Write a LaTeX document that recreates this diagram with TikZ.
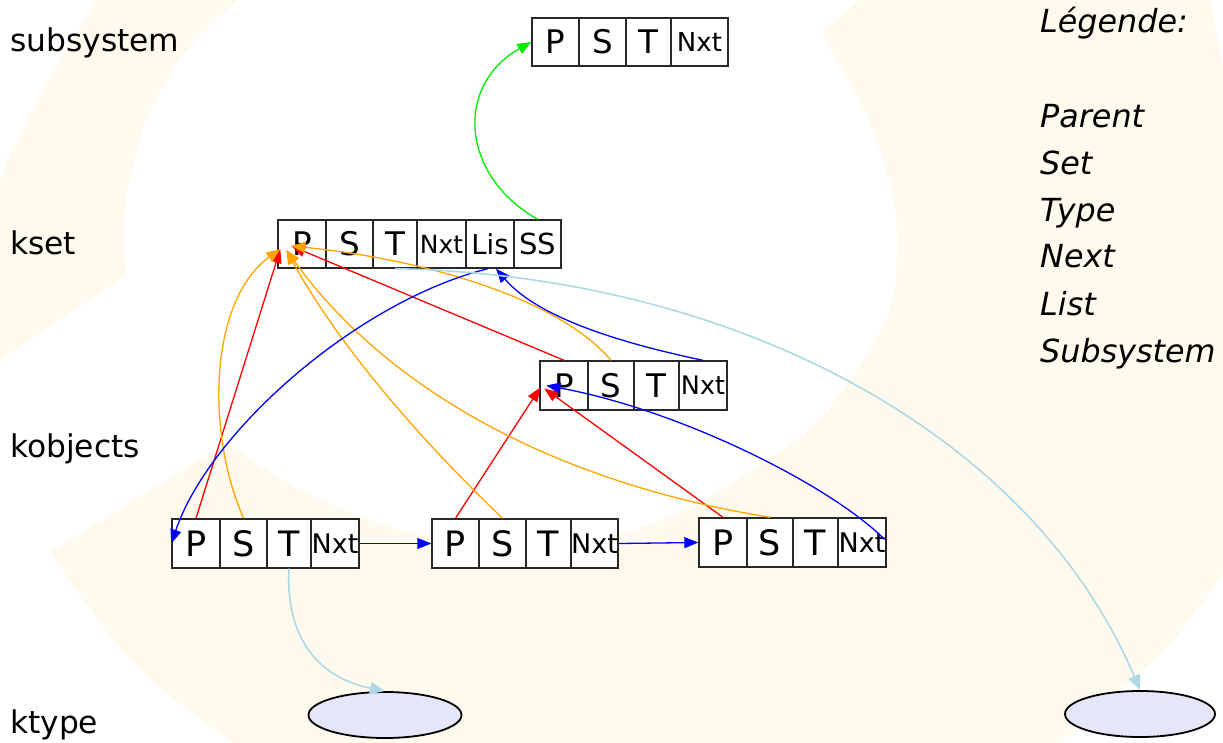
\documentclass[tikz,border=0pt]{standalone}
\usepackage{fontspec}
\setmainfont{DejaVu Sans}
\usetikzlibrary{arrows.meta,shapes.geometric}
\definecolor{cream}{RGB}{255,250,237}
\definecolor{boxline}{RGB}{40,40,40}
\definecolor{lav}{RGB}{230,230,250}
\definecolor{lblue}{RGB}{173,216,230}
\definecolor{vgreen}{RGB}{0,235,0}
\definecolor{vorange}{RGB}{255,165,0}
\newcommand\cellfont[1]{\fontsize{#1}{#1}\selectfont}
\begin{document}
\begin{tikzpicture}[x=1pt,y=-1pt,
  cell/.style={draw=boxline, fill=white, line width=1.4pt, inner sep=0pt,
    minimum height=48pt, anchor=center},
  big/.style={font=\cellfont{32.5}},
  bigger/.style={font=\cellfont{35}},
  lbl/.style={font=\cellfont{31.3}, anchor=base west, inner sep=0pt},
  leg/.style={font=\cellfont{31.8}\itshape, anchor=base west, inner sep=0pt},
  typ/.style={ellipse, draw=black, fill=lav, line width=1.8pt, inner sep=0pt,
    minimum width=152pt, minimum height=46pt},
  conn/.style={line width=1.3pt, -{Triangle[length=14pt,width=11pt]}},
  tconn/.style={line width=1.6pt, lblue, -{Triangle[length=15pt,width=12pt]}}]

\useasboundingbox (0,0) rectangle (1223,743);
\fill[white] (0,0) rectangle (1223,743);

% swirl in the background
\fill[cream] plot[smooth] coordinates {(97,0) (50,77) (13,150) (0,180)}
  -- (0,360) -- (126,275)
  -- plot[smooth] coordinates {(126,275) (123,230) (130,177) (150,110) (187,50) (237,0)}
  -- cycle;
\fill[cream] (50,552) -- (227,443)
  -- plot[smooth] coordinates {(227,443) (300,490) (400,530) (510,543) (620,534)
     (703,500) (800,437) (835,400) (870,350) (893,300) (897,233) (890,183) (867,117) (822,33)}
  -- (860,0) -- (1210,0) -- (1223,67) -- (1223,573)
  -- plot[smooth] coordinates {(1223,573) (1167,647) (1060,743)}
  -- (233,743)
  -- plot[smooth] coordinates {(233,743) (133,663) (50,552)}
  -- cycle;

% row labels
\node[lbl] (lsub) at (10,52) {subsystem};
\node[lbl] (lkset) at (10,255) {kset};
\node[lbl] (lkobj) at (10,457) {kobjects};
\node[lbl] (lktype) at (10,733) {ktype};

% legend
\node[leg] (lg0) at (1040,33) {Légende:};
\node[leg] (lg1) at (1040,128) {Parent};
\node[leg] (lg2) at (1040,175) {Set};
\node[leg] (lg3) at (1040,222) {Type};
\node[leg] (lg4) at (1040,268) {Next};
\node[leg] (lg5) at (1040,315) {List};
\node[leg] (lg6) at (1040,362) {Subsystem};

% subsystem
\node[cell,big,minimum width=47pt] (ssP) at (555.5,42) {P};
\node[cell,big,minimum width=47pt] (ssS) at (602.5,42) {S};
\node[cell,big,minimum width=45pt] (ssT) at (648.5,42) {T};
\node[cell,font=\cellfont{26},minimum width=57pt] (ssN) at (699.5,42) {Nxt};

% kset
\node[cell,big,minimum width=48pt] (ksP) at (302,244) {P};
\node[cell,big,minimum width=47pt] (ksS) at (349.5,244) {S};
\node[cell,big,minimum width=44pt] (ksT) at (395,244) {T};
\node[cell,font=\cellfont{25},minimum width=49pt] (ksN) at (441.5,244) {Nxt};
\node[cell,font=\cellfont{27.5},minimum width=48pt] (ksL) at (490,244) {Lis};
\node[cell,font=\cellfont{29},minimum width=47pt] (ksSS) at (537.5,244) {SS};

% embedded kobject of the kset
\node[cell,big,minimum width=48pt,minimum height=49pt] (mP) at (564,385.5) {P};
\node[cell,big,minimum width=46pt,minimum height=49pt] (mS) at (611,385.5) {S};
\node[cell,big,minimum width=45pt,minimum height=49pt] (mT) at (656.5,385.5) {T};
\node[cell,font=\cellfont{25.5},minimum width=48pt,minimum height=49pt] (mN) at (703,385.5) {Nxt};

% kobjects
\node[cell,bigger,minimum width=48pt,minimum height=49pt] (aP) at (196,543.5) {P};
\node[cell,bigger,minimum width=47pt,minimum height=49pt] (aS) at (243.5,543.5) {S};
\node[cell,bigger,minimum width=44pt,minimum height=49pt] (aT) at (289,543.5) {T};
\node[cell,font=\cellfont{27},minimum width=48pt,minimum height=49pt] (aN) at (335,543.5) {Nxt};

\node[cell,bigger,minimum width=47pt,minimum height=49pt] (bP) at (455.5,543.5) {P};
\node[cell,bigger,minimum width=47pt,minimum height=49pt] (bS) at (502.5,543.5) {S};
\node[cell,bigger,minimum width=45pt,minimum height=49pt] (bT) at (548.5,543.5) {T};
\node[cell,font=\cellfont{27},minimum width=47pt,minimum height=49pt] (bN) at (594.5,543.5) {Nxt};

\node[cell,bigger,minimum width=48pt,minimum height=49pt] (cP) at (723,542.5) {P};
\node[cell,bigger,minimum width=46pt,minimum height=49pt] (cS) at (770,542.5) {S};
\node[cell,bigger,minimum width=45pt,minimum height=49pt] (cT) at (815.5,542.5) {T};
\node[cell,font=\cellfont{27},minimum width=48pt,minimum height=49pt] (cN) at (862,542.5) {Nxt};

% ktypes
\node[typ,minimum width=153pt] (e1) at (385,715) {};
\node[typ,minimum width=150pt] (e2) at (1140,714) {};

% arrival points on the P cells
\coordinate (kin1) at ([shift={(3,5)}]ksP.west);
\coordinate (kin2) at ([shift={(9,6)}]ksP.west);
\coordinate (kin3) at ([shift={(14,2)}]ksP.west);
\coordinate (min1) at ([shift={(1,2)}]mP.west);
\coordinate (min2) at ([shift={(5,3)}]mP.west);
\coordinate (min3) at ([shift={(7,0)}]mP.west);
\coordinate (lisin) at ([xshift=6pt]ksL.south);
\coordinate (lisout) at ([xshift=-2pt]ksL.south);
\coordinate (aNout) at ([shift={(-2,-3)}]cN.east);

% subsystem link
\draw[conn,vgreen] (ksSS.north) .. controls (460,175) and (455,85) .. (ssP.west);

% parent links
\draw[conn,red] (aP.north) -- (kin1);
\draw[conn,red] (mP.north) -- (kin3);
\draw[conn,red] (bP.north) -- (min1);
\draw[conn,red] (cP.north) -- (min2);

% set links
\draw[conn,vorange] (aS.north) .. controls (205,430) and (210,300) .. (kin1);
\draw[conn,vorange] (bS.north) .. controls (400,420) and (330,330) .. (kin2);
\draw[conn,vorange] (cS.north) .. controls (540,480) and (380,380) .. (kin2);
\draw[conn,vorange] (mS.north) .. controls (560,300) and (430,260) .. (kin3);

% list links
\draw[conn,blue] (lisout) .. controls (360,300) and (210,430) .. (aP.west);
\draw[conn,blue] (aN.east) -- (bP.west);
\draw[conn,blue] (bN.east) -- (cP.west);
\draw[conn,blue] (aNout) .. controls (830,485) and (680,410) .. (min3);
\draw[conn,blue] (mN.north) .. controls (630,345) and (540,320) .. (lisin);

% type links
\draw[tconn] (aT.south) .. controls (285,650) and (330,680) .. (e1.north);
\draw[tconn] (ksT.south) .. controls (730,275) and (1030,430) .. (e2.north);
\end{tikzpicture}
\end{document}
